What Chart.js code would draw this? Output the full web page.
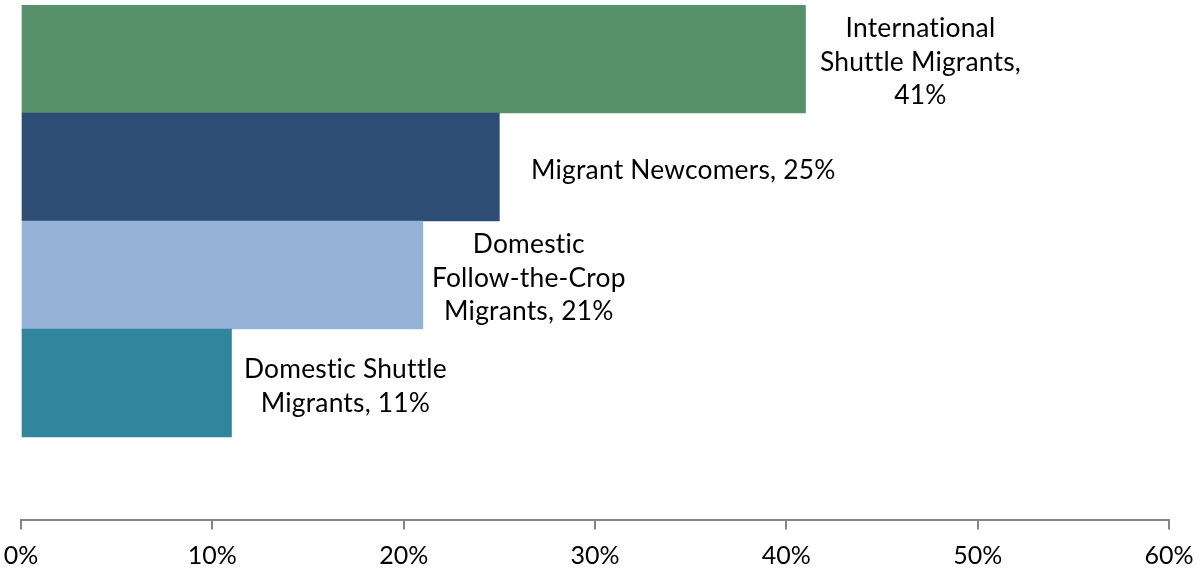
<!DOCTYPE html>
<html>
<head>
<meta charset="utf-8">
<script src="https://cdn.jsdelivr.net/npm/chart.js@4/dist/chart.umd.min.js"></script>
<style>
  html, body { margin: 0; padding: 0; background: #ffffff; }
  #wrap { width: 1198px; height: 574px; position: relative; }
</style>
</head>
<body>
<div id="wrap"><canvas id="c"></canvas></div>
<script>
// ---- Data ----
const categories = [
  'International\nShuttle Migrants',
  'Migrant Newcomers',
  'Domestic\nFollow-the-Crop\nMigrants',
  'Domestic Shuttle\nMigrants'
];
const values = [41, 25, 21, 11];          // percent
const valueSeparators = [',\n', ', ', ', ', ', '];
const tickValues = [0, 10, 20, 30, 40, 50, 60];

// ---- Styles ----
const barColors = ['#569169', '#2E4D74', '#95B3D7', '#31859C'];
const labelCenterOffsetPx = [115, 184, 106, 114];  // label centre, right of bar end
const FONT = 'Lato, "Open Sans", sans-serif';

const points = values.map((v, i) => ({ x: v, y: i }));

const labelPlugin = {
  id: 'barLabels',
  afterDatasetsDraw(chart) {
    const ctx = chart.ctx;
    const meta = chart.getDatasetMeta(0);
    ctx.save();
    ctx.font = '26.4px ' + FONT;
    try { ctx.letterSpacing = '0.2px'; } catch (e) {}
    ctx.fillStyle = '#000000';
    ctx.textAlign = 'center';
    ctx.textBaseline = 'alphabetic';
    meta.data.forEach((bar, i) => {
      const text = categories[i] + valueSeparators[i] + values[i] + '%';
      const lines = text.split('\n');
      const cx = bar.x + labelCenterOffsetPx[i];
      const lh = 33.5;
      lines.forEach((ln, k) => {
        const y = bar.y + 12 + (k - (lines.length - 1) / 2) * lh;
        ctx.fillText(ln, cx, y);
      });
    });
    ctx.restore();
  }
};

new Chart(document.getElementById('c'), {
  type: 'bar',
  data: {
    datasets: [{
      data: points,
      backgroundColor: barColors,
      borderWidth: 0,
      barPercentage: 1,
      categoryPercentage: 1
    }]
  },
  options: {
    indexAxis: 'y',
    responsive: true,
    maintainAspectRatio: false,
    animation: false,
    layout: { padding: { left: 21, right: 29, top: 5, bottom: 0 } },
    plugins: {
      legend: { display: false },
      tooltip: { enabled: false }
    },
    scales: {
      y: {
        type: 'linear',
        display: false,
        reverse: true,
        offset: false,
        min: -0.5,
        max: 4.264,
        afterBuildTicks(scale) {
          scale.ticks = categories.map((c, i) => ({ value: i }));
        }
      },
      x: {
        type: 'linear',
        min: 0,
        max: 60,
        afterBuildTicks(scale) {
          scale.ticks = tickValues.map(v => ({ value: v }));
        },
        afterFit(scale) {
          scale.height = 54.5;
          scale.paddingLeft = 0;
          scale.paddingRight = 0;
        },
        ticks: {
          callback: v => v + '%',
          color: '#000000',
          font: { family: FONT, size: 25 },
          padding: 11.5,
          maxRotation: 0
        },
        grid: {
          drawOnChartArea: false,
          drawTicks: true,
          tickLength: 10,
          color: '#868686',
          lineWidth: 2
        },
        border: { display: true, color: '#868686', width: 2 }
      }
    }
  },
  plugins: [labelPlugin]
});
</script>
</body>
</html>
